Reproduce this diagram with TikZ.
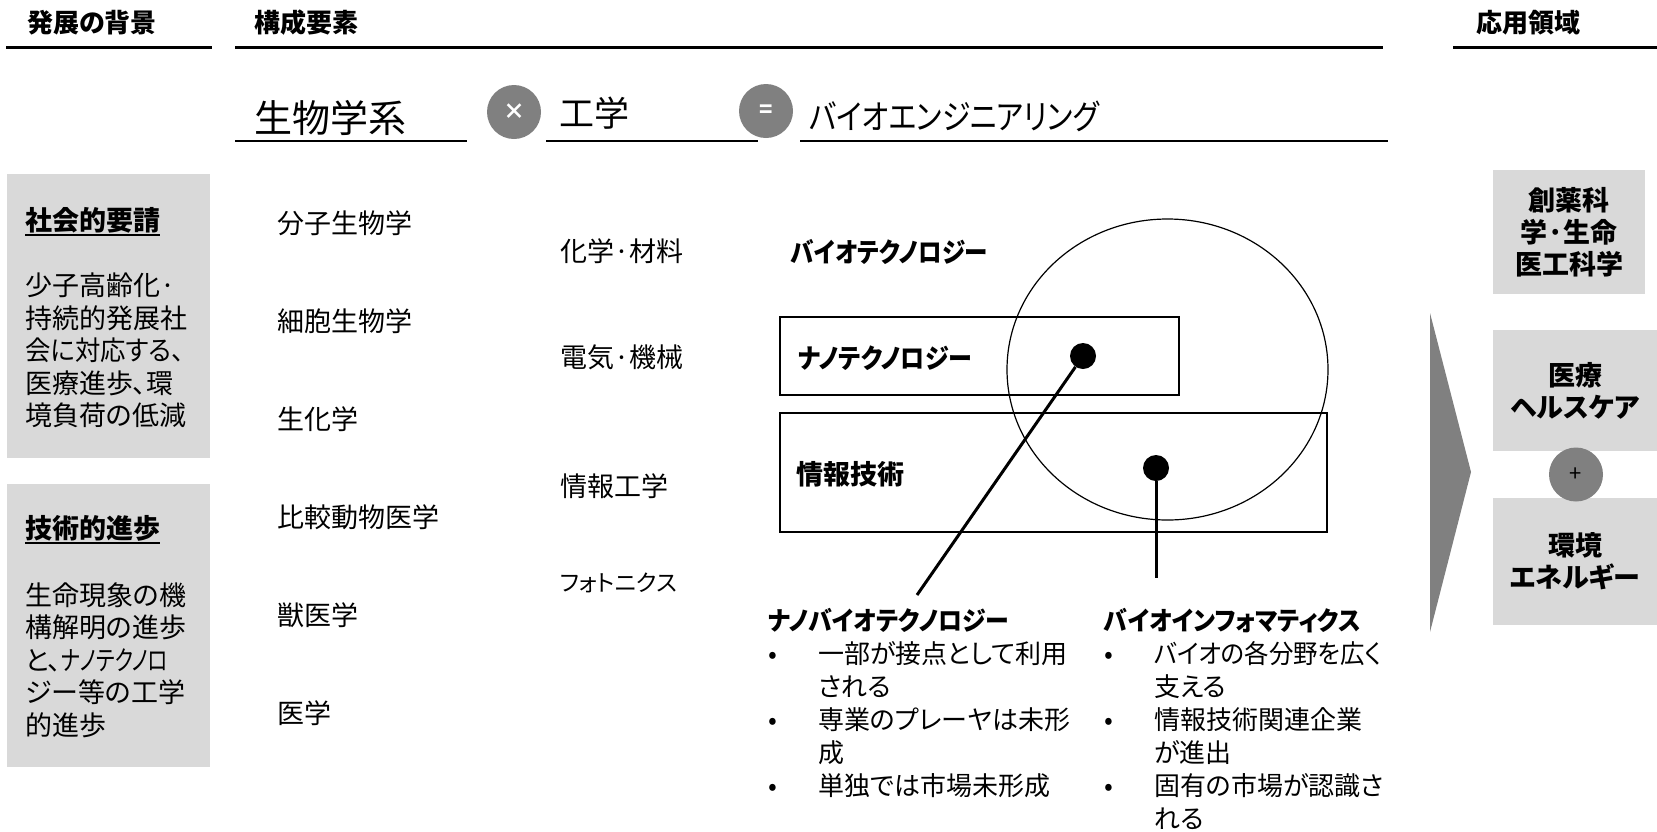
\documentclass[tikz,border=0pt]{standalone}
\usepackage{fontspec}
\setmainfont{Noto Sans CJK JP}[RawFeature=+palt]
\usetikzlibrary{positioning}
\definecolor{boxgray}{RGB}{217,217,217}
\definecolor{markgray}{RGB}{128,128,128}
\newcommand\kanasqueeze[2]{{\addfontfeature{FakeStretch=#1}#2}}

\begin{document}
\begin{tikzpicture}[x=1pt,y=-1pt,node distance=98pt,
    head node/.style={anchor=west,inner sep=0pt,font=\fontsize{26}{30}\selectfont\bfseries},
    title node/.style={anchor=west,inner sep=0pt,font=\fontsize{35}{40}\selectfont},
    item node/.style={anchor=west,inner sep=0pt,font=\fontsize{27}{32}\selectfont},
    label node/.style={anchor=west,inner sep=0pt,font=\fontsize{27}{32}\selectfont\bfseries},
    body node/.style={anchor=north west,inner sep=0pt,align=left,font=\fontsize{27}{32.5}\selectfont},
    list node/.style={anchor=base west,inner sep=0pt,font=\fontsize{26}{33}\selectfont},
    side box/.style={fill=boxgray,inner sep=0pt,align=center,font=\fontsize{27}{32}\selectfont\bfseries},
    op node/.style={circle,fill=markgray,minimum size=54pt,inner sep=0pt,text=white,font=\fontsize{22}{22}\selectfont\bfseries},
    tech box/.style={draw,line width=1.2pt,inner sep=0pt},
    dot node/.style={circle,fill=black,minimum size=26pt,inner sep=0pt},
    rule line/.style={line width=3pt},
    under line/.style={line width=2pt},
    lead line/.style={line width=3pt}]
\useasboundingbox (0,0) rectangle (1657,831);

\node[head node] (back) at (27,23) {発展の背景};
\node[head node] (elem) at (254,23) {構成要素};
\node[head node] (app) at (1476,23) {応用領域};
\draw[rule line] (6,47) -- (212,47);
\draw[rule line] (235,47) -- (1383,47);
\draw[rule line] (1453,47) -- (1657,47);

\node[title node,font=\fontsize{38}{40}\selectfont] (bio) at (254,118) {生物学系};
\node[op node] (times) at (514,112) {×};
\node[title node] (eng) at (559,113) {工学};
\node[op node] (equals) at (766,111) {=};
\node[title node,font=\fontsize{34}{40}\selectfont] (bioeng) at (809,116) {\kanasqueeze{0.85}{バイオエンジニアリング}};
\draw[under line] (235,141) -- (467,141);
\draw[under line] (546,141) -- (758,141);
\draw[under line] (800,141) -- (1388,141);

\node[fill=boxgray,minimum width=203pt,minimum height=284pt] (soc) at (108.5,316) {};
\node[label node] (soctitle) at (25,220) {社会的要請};
\draw[under line] ([yshift=-2pt]soctitle.south west) -- ([yshift=-2pt]soctitle.south east);
\node[body node] (socbody) at (25,273) {少子高齢化·\\持続的発展社\\\kanasqueeze{0.94}{会に対応する、}\\医療進歩、環\\境負荷の低減};
\node[fill=boxgray,minimum width=203pt,minimum height=283pt] (tec) at (108.5,625.5) {};
\node[label node] (tectitle) at (25,528) {技術的進歩};
\draw[under line] ([yshift=-2pt]tectitle.south west) -- ([yshift=-2pt]tectitle.south east);
\node[body node] (tecbody) at (25,582) {生命現象の機\\構解明の進歩\\と、\kanasqueeze{0.76}{ナノテクノロ}\\ジー等の工学\\的進歩};

\node[item node] (mol) at (277,223) {分子生物学};
\node[item node,below=of mol.west,anchor=west] (cell) {細胞生物学};
\node[item node,below=of cell.west,anchor=west] (chem) {生化学};
\node[item node,below=of chem.west,anchor=west] (comp) {比較動物医学};
\node[item node,below=of comp.west,anchor=west] (vet) {獣医学};
\node[item node,below=of vet.west,anchor=west] (med) {医学};

\node[item node] (mat) at (560,251.5) {化学·材料};
\node[item node] (mech) at (560,357) {電気·機械};
\node[item node] (info) at (560,486) {情報工学};
\node[item node,font=\fontsize{23}{28}\selectfont] (phot) at (560,583) {フォトニクス};

\node[label node] (biotech) at (791,251.5) {\kanasqueeze{0.87}{バイオテクノロジー}};
\node[tech box,minimum width=399pt,minimum height=78pt] (nanobox) at (979.5,356) {};
\node[label node] (nano) at (798,358) {\kanasqueeze{0.89}{ナノテクノロジー}};
\node[tech box,minimum width=547pt,minimum height=119pt] (infobox) at (1053.5,472.5) {};
\node[label node] (it) at (796,474.5) {情報技術};
\draw[line width=1.2pt] (1167.5,369.5) ellipse [x radius=160.5pt,y radius=150.5pt];

\node[dot node] (ndot) at (1083,356) {};
\node[dot node] (idot) at (1156,468) {};
\coordinate (nend) at (917,595);
\coordinate (iend) at (1156,578);
\path[lead line]
  (ndot) edge (nend)
  (idot) edge (iend);

\node[list node] (nanobio) at (768,630) {\begin{tabular}[t]{@{}p{50pt}@{}l@{}}
\multicolumn{2}{@{}l@{}}{\bfseries\kanasqueeze{0.92}{ナノバイオテクノロジー}}\\
•&一部が接点として利用\\
&される\\
•&専業のプレーヤは未形\\
&成\\
•&単独では市場未形成
\end{tabular}};
\node[list node] (bioinfo) at (1104,630) {\begin{tabular}[t]{@{}p{50pt}@{}l@{}}
\multicolumn{2}{@{}l@{}}{\bfseries\kanasqueeze{0.92}{バイオインフォマティクス}}\\
•&\kanasqueeze{0.94}{バイオの各分野を広く}\\
&支える\\
•&情報技術関連企業\\
&が進出\\
•&固有の市場が認識さ\\
&れる
\end{tabular}};

\fill[markgray] (1430,313) -- (1471,472) -- (1430,632) -- cycle;
\node[side box,minimum width=152pt,minimum height=124pt] (drug) at (1569,232) {創薬科\\学·生命\\医工科学};
\node[side box,minimum width=164pt,minimum height=121pt] (care) at (1575,390.5) {医療\\ヘルスケア};
\node[side box,minimum width=164pt,minimum height=127pt] (env) at (1575,561.5) {環境\\エネルギー};
\node[op node,text=black,font=\fontsize{22}{22}\selectfont] (plus) at (1576,474.5) {+};
\end{tikzpicture}
\end{document}
